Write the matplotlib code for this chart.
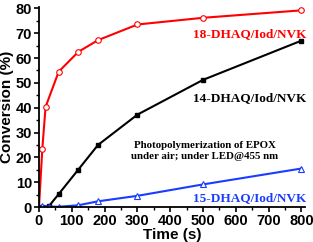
import matplotlib
matplotlib.use("Agg")
import matplotlib.pyplot as plt
from matplotlib.ticker import MultipleLocator

time_s = [0, 10, 20, 60, 120, 180, 300, 500, 800]
conv_18 = [0, 23.2, 40.3, 54.5, 62.5, 67.2, 73.5, 76.2, 79.2]
time_14 = [0, 10, 30, 60, 120, 180, 300, 500, 800]
conv_14 = [0, 0.2, 0.3, 5.2, 15.1, 25.0, 37.2, 51.2, 67.0]
time_15 = [0, 10, 30, 60, 120, 180, 300, 500, 800]
conv_15 = [0, 0.3, 0.2, 0.1, 0.7, 2.3, 4.5, 9.1, 15.5]

fig = plt.figure(figsize=(3.13, 2.42), dpi=100)
ax = fig.add_axes([0.1246, 0.1446, 0.849, 0.826])

ax.plot(time_s, conv_18, color="#ff0000", lw=1.5, marker="o", ms=4,
        mfc="white", mec="#ff0000", mew=0.8, markevery=list(range(1, 9)))
ax.plot(time_14, conv_14, color="black", lw=1.5, marker="s", ms=3.2,
        mfc="black", mec="black", markevery=list(range(1, 9)))
ax.plot(time_15, conv_15, color="#1a3cff", lw=1.5, marker="^", ms=4.5,
        mfc="white", mec="#1a3cff", mew=0.8, markevery=list(range(1, 9)))

ax.set_xlim(0, 810)
ax.set_ylim(0, 80.5)
ax.xaxis.set_major_locator(MultipleLocator(100))
ax.xaxis.set_minor_locator(MultipleLocator(50))
ax.yaxis.set_major_locator(MultipleLocator(10))
ax.yaxis.set_minor_locator(MultipleLocator(5))
for s in ["top", "right"]:
    ax.spines[s].set_visible(False)
for s in ["left", "bottom"]:
    ax.spines[s].set_linewidth(1.3)
ax.tick_params(which="major", direction="out", length=3.5, width=1.2,
               labelsize=10.5, pad=1.5)
ax.tick_params(which="minor", direction="out", length=2, width=1)
for lab in ax.get_xticklabels() + ax.get_yticklabels():
    lab.set_fontweight("bold")
    lab.set_fontfamily("Liberation Sans")

ax.set_xlabel("Time (s)", fontsize=11, fontweight="bold", family="Liberation Sans", labelpad=0)
ax.set_ylabel("Conversion (%)", fontsize=11, fontweight="bold", family="Liberation Sans", labelpad=1)

tf = dict(family="Liberation Serif", fontweight="bold", fontsize=9.5, ha="center", va="center")
ax.text(642, 69.5, "18-DHAQ/Iod/NVK", color="#ff0000", **tf)
ax.text(642, 44, "14-DHAQ/Iod/NVK", color="black", **tf)
ax.text(642, 3.5, "15-DHAQ/Iod/NVK", color="#1a3cff", **tf)
ax.text(505, 22.5, "Photopolymerization of EPOX\nunder air; under LED@455 nm",
        color="black", family="Liberation Serif", fontweight="bold", fontsize=7.8,
        ha="center", va="center", linespacing=1.3)

fig.savefig("out.png", dpi=100)
